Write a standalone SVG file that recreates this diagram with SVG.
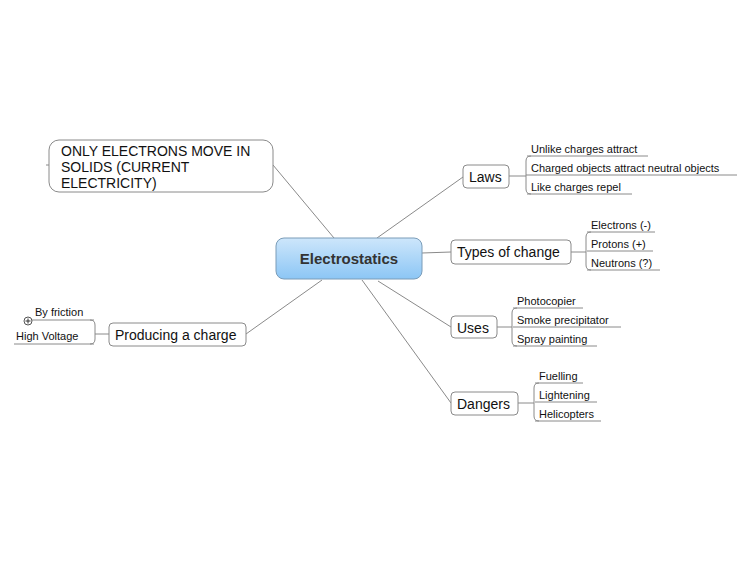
<svg xmlns="http://www.w3.org/2000/svg" width="750" height="563" viewBox="0 0 750 563">
<style>
.b{fill:#fff;stroke:#8a8a8a;stroke-width:1}
.c{fill:none;stroke:#8a8a8a;stroke-width:1}
.t{font-family:"Liberation Sans",Arial,sans-serif;font-size:14px;fill:#111}
.l{font-family:"Liberation Sans",Arial,sans-serif;font-size:11px;fill:#111}
</style>
<defs><linearGradient id="g" x1="0" y1="0" x2="0" y2="1"><stop offset="0" stop-color="#cde6fb"/><stop offset="1" stop-color="#8cc6f5"/></linearGradient></defs>
<rect width="750" height="563" fill="#fff"/>
<g id="connectors" class="c">
<path d="M273 165 L334 238"/><path d="M377 238 L463 177"/><path d="M422 253 L451 252"/>
<path d="M378 281 L451 327"/><path d="M362 280 L451 403"/><path d="M322 280 L246 334"/>
<path d="M46 165 H49"/>
<path d="M509 176 H526 M531 156 Q526 156 526 161 V189 Q526 194 531 194 M526 175 H527"/>
<path d="M527 156 H648 M527 175 H737 M527 194 H632"/>
<path d="M571 252 H586 M591 232 Q586 232 586 237 V265 Q586 270 591 270"/>
<path d="M587 232 H655 M587 251 H653 M587 270 H660"/>
<path d="M497 327 H512 M517 308 Q512 308 512 313 V341 Q512 346 517 346"/>
<path d="M513 308 H583 M513 327 H621 M513 346 H597"/>
<path d="M518 403 H534 M539 383 Q534 383 534 388 V416 Q534 421 539 421"/>
<path d="M535 383 H583 M535 402 H597 M535 421 H601"/>
<path d="M109 334 H95 M90 320 Q95 320 95 325 V339 Q95 344 90 344"/>
<path d="M32 320 H94 M14 344 H94"/>
</g>
<g id="center"><rect x="276" y="238" width="146" height="41" rx="8" fill="url(#g)" stroke="#7a9cb8"/><text x="349" y="264" text-anchor="middle" font-family="Liberation Sans,Arial,sans-serif" font-size="15" font-weight="bold" fill="#333">Electrostatics</text></g>
<g id="only"><rect class="b" x="49" y="140" width="224" height="52" rx="10"/><text class="t" font-size="13"><tspan x="61" y="156">ONLY ELECTRONS MOVE IN</tspan><tspan x="61" y="172">SOLIDS (CURRENT</tspan><tspan x="61" y="188">ELECTRICITY)</tspan></text></g>
<g id="laws"><rect class="b" x="463" y="165" width="46" height="23" rx="4"/><text class="t" x="469" y="182">Laws</text>
<text class="l" x="531" y="153">Unlike charges attract</text><text class="l" x="531" y="172">Charged objects attract neutral objects</text><text class="l" x="531" y="191">Like charges repel</text></g>
<g id="types"><rect class="b" x="451" y="240" width="120" height="24" rx="4"/><text class="t" x="457" y="257">Types of change</text>
<text class="l" x="591" y="229">Electrons (-)</text><text class="l" x="591" y="248">Protons (+)</text><text class="l" x="591" y="267">Neutrons (?)</text></g>
<g id="uses"><rect class="b" x="451" y="316" width="46" height="22" rx="4"/><text class="t" x="457" y="333">Uses</text>
<text class="l" x="517" y="305">Photocopier</text><text class="l" x="517" y="324">Smoke precipitator</text><text class="l" x="517" y="343">Spray painting</text></g>
<g id="dangers"><rect class="b" x="451" y="392" width="67" height="23" rx="4"/><text class="t" x="457" y="409">Dangers</text>
<text class="l" x="539" y="380">Fuelling</text><text class="l" x="539" y="399">Lightening</text><text class="l" x="539" y="418">Helicopters</text></g>
<g id="producing"><rect class="b" x="109" y="323" width="137" height="23" rx="4"/><text class="t" x="115" y="340">Producing a charge</text>
<text class="l" x="35" y="316">By friction</text><text class="l" x="16" y="340">High Voltage</text>
<circle cx="28" cy="321" r="4" fill="#fff" stroke="#555"/><path d="M25.5 321 H30.5 M28 318.5 V323.5" stroke="#333"/></g>
</svg>
